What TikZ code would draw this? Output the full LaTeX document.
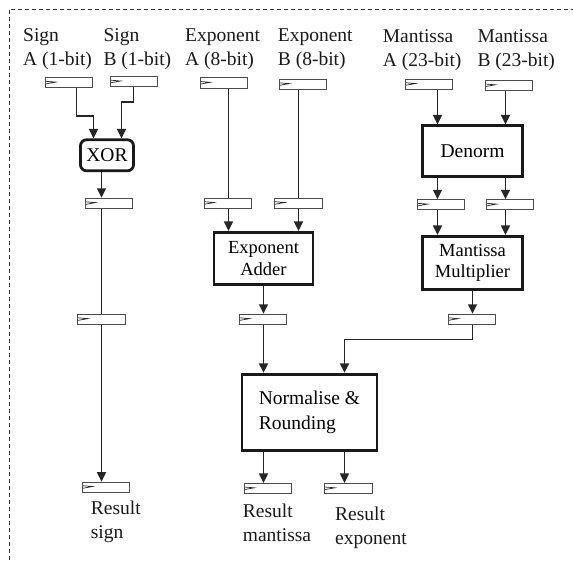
\documentclass[tikz,border=0pt]{standalone}
\usepackage{fontspec}
\setmainfont{Liberation Serif}
\usetikzlibrary{arrows.meta}

\tikzset{
  reg/.style={draw=black!70, fill=white, line width=0.9pt, inner sep=0pt,
    minimum width=47.2pt, minimum height=10.2pt,
    path picture={\draw[black!85, line width=0.7pt]
      ([yshift=-3.6pt]path picture bounding box.north west) -- ++(10pt,-0.8pt)
      -- ++(-10pt,-1.8pt);}},
  unit/.style={draw=black!90, line width=2.8pt, fill=white, align=center,
    inner sep=2pt, font=\fontsize{18.5}{21.7}\selectfont},
  % two-line labels: anchored on the baseline of their last line
  lbl/.style={anchor=base west, align=left, inner sep=0pt,
    font=\fontsize{19.5}{24}\selectfont, text=black!90},
  conn/.style={draw=black!85, line width=1.7pt},
  arr/.style={conn, -{Triangle[length=9.5pt,width=9pt]}},
}

\begin{document}
\begin{tikzpicture}[x=1pt, y=-1pt]
\useasboundingbox (0,0) rectangle (573,560);

% enclosing dashed frame (open to the right and bottom)
\draw[black!80, line width=0.9pt, dash pattern=on 4pt off 3pt]
  (9,560) -- (9,9) -- (573,9);

% input labels
\node[lbl] (lsa) at (23,65.3)    {Sign\\A (1-bit)};
\node[lbl] (lsb) at (103.3,65.3) {Sign\\B (1-bit)};
\node[lbl] (lea) at (185,65.7)   {Exponent\\A (8-bit)};
\node[lbl] (leb) at (277.7,65.7) {Exponent\\B (8-bit)};
\node[lbl] (lma) at (382.7,66)   {Mantissa\\A (23-bit)};
\node[lbl] (lmb) at (477.3,66)   {Mantissa\\B (23-bit)};

% registers
\node[reg] (rsa)  at (69.3,82.8)  {};
\node[reg] (rsb)  at (134.2,81.7) {};
\node[reg] (rx1)  at (109.2,203.3) {};
\node[reg] (rx2)  at (101.5,319.3) {};
\node[reg] (rsr)  at (106.2,487.2) {};
\node[reg] (rea)  at (223.8,83.0) {};
\node[reg] (reb)  at (302.8,84.3) {};
\node[reg] (rea2) at (227.8,203.2) {};
\node[reg] (reb2) at (298.5,203.2) {};
\node[reg] (rexo) at (263.2,319.3) {};
\node[reg] (rma)  at (429.2,84.2) {};
\node[reg] (rmb)  at (508.8,85.5) {};
\node[reg] (rma2) at (441.2,204.8) {};
\node[reg] (rmb2) at (510.0,204.8) {};
\node[reg] (rmmo) at (471.7,319.3) {};
\node[reg] (rrm)  at (267.8,488.5) {};
\node[reg] (rre)  at (348.5,488.5) {};

% functional units
\node[unit, rounded corners=6pt, minimum width=53pt, minimum height=31pt,
      font=\fontsize{19.5}{23}\selectfont] (xor) at (107,155.3) {XOR};
\node[unit, minimum width=99pt, minimum height=52pt] (expadd) at (263.5,258.3)
  {Exponent\\Adder};
\node[unit, minimum width=100pt, minimum height=51pt,
      font=\fontsize{19.5}{23}\selectfont] (denorm) at (472.5,151.3) {Denorm};
\node[unit, minimum width=100pt, minimum height=53pt] (mmul) at (472.5,262.8)
  {Mantissa\\Multiplier};
\node[unit, minimum width=135pt, minimum height=76pt, align=left,
      font=\fontsize{19.5}{25}\selectfont] (norm) at (309.5,412.2)
  {Normalise \&\\Rounding};

% result labels
\node[lbl] (lrs) at (90.7,538.3)  {Result\\sign};
\node[lbl] (lrm) at (242.7,541.7) {Result\\mantissa};
\node[lbl] (lre) at (335,544)     {Result\\exponent};

% sign path
\draw[arr] ([xshift=7.2pt]rsa.south) -- ++(0,27.4) -| ([xshift=-13.5pt]xor.north);
\draw[arr] ([xshift=-0.7pt]rsb.south) -- ++(0,14.8) -| ([xshift=14.5pt]xor.north);
\draw[arr] ([xshift=-5.5pt]xor.south) -- ([xshift=-5.5pt]xor.south |- rx1.north);
\draw[conn] (rx2 |- rx1.south) -- (rx2.north);
\draw[arr] (rx2.south) -- (rx2.south |- rsr.north);

% exponent path
\draw[conn] ([xshift=4.7pt]rea.south) -- ([xshift=4.7pt]rea.south |- rea2.north);
\draw[arr] ([xshift=0.7pt]rea2.south) -- ([xshift=0.7pt]rea2.south |- expadd.north);
\draw[conn] ([xshift=-4.3pt]reb.south) -- ([xshift=-4.3pt]reb.south |- reb2.north);
\draw[arr] (reb2.south) -- (reb2.south |- expadd.north);
\draw[arr] (expadd.south) -- (expadd.south |- rexo.north);
\draw[arr] (expadd.south |- rexo.south) -- (expadd.south |- norm.north);

% mantissa path
\draw[arr] ([xshift=-35pt]denorm.north |- rma.south) -- ([xshift=-35pt]denorm.north);
\draw[arr] ([xshift=33pt]denorm.north |- rmb.south) -- ([xshift=33pt]denorm.north);
\draw[arr] ([xshift=-35pt]denorm.south) -- ([xshift=-35pt]denorm.south |- rma2.north);
\draw[arr] ([xshift=33pt]denorm.south) -- ([xshift=33pt]denorm.south |- rmb2.north);
\draw[arr] ([xshift=-35pt]denorm.south |- rma2.south) -- ([xshift=-35pt]denorm.south |- mmul.north);
\draw[arr] ([xshift=33pt]denorm.south |- rmb2.south) -- ([xshift=33pt]denorm.south |- mmul.north);
\draw[arr] (mmul.south) -- (mmul.south |- rmmo.north);
\draw[arr] (mmul.south |- rmmo.south) -- ++(0,14.7) -| ([xshift=35pt]norm.north);

% results
\draw[arr] ([xshift=-46pt]norm.south) -- ([xshift=-46pt]norm.south |- rrm.north);
\draw[arr] ([xshift=35pt]norm.south) -- ([xshift=35pt]norm.south |- rre.north);
\end{tikzpicture}
\end{document}
